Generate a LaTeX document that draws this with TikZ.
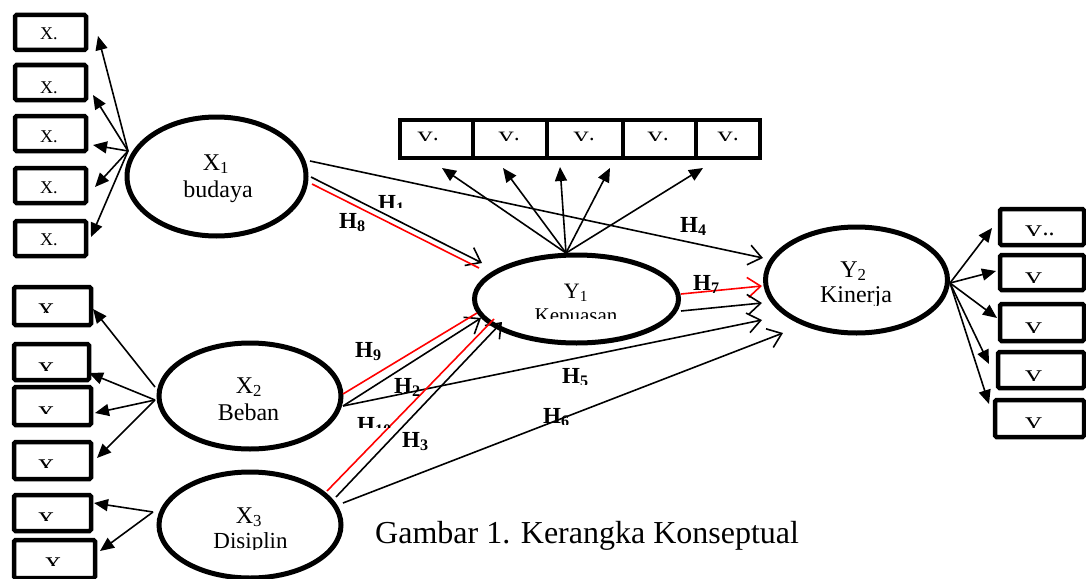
\documentclass[tikz,border=0pt]{standalone}
\usepackage{fontspec}
\setmainfont{Liberation Serif}
\usetikzlibrary{arrows.meta,calc,shapes.geometric}
\begin{document}
\begin{tikzpicture}[x=1pt,y=-1pt,
  lat/.style={draw,ellipse,line width=5pt,fill=white,inner sep=0pt},
  ind/.style={draw,rectangle,line width=4.5pt,fill=white,inner sep=0pt,rounded corners=1.5pt},
  meas/.style={line width=1.6pt,-{Triangle[length=14pt,width=12pt]}},
  struct/.style={line width=1.6pt,-{Straight Barb[length=13pt,width=20pt]}},
  redln/.style={line width=1.6pt,red},
  hlab/.style={font=\fontsize{23}{27}\selectfont\bfseries,inner sep=0pt,anchor=base west},
  elab/.style={font=\fontsize{24}{28}\selectfont,inner sep=0pt,anchor=base},
  smlab/.style={font=\fontsize{18}{21}\selectfont,inner sep=0pt,anchor=base west},
  biglab/.style={font=\fontsize{24}{28}\selectfont,inner sep=0pt,anchor=base west},
  toplab/.style={font=\fontsize{22}{26}\selectfont,inner sep=0pt,anchor=base}
]
\useasboundingbox (0,0) rectangle (1086,578);

% ---------- indicator boxes of X1
\node[ind,minimum width=71,minimum height=35] (B1) at (50.5,32.5) {};
\node[ind,minimum width=71,minimum height=35] (B2) at (50.5,82.5) {};
\node[ind,minimum width=71,minimum height=35] (B3) at (50.5,133.5) {};
\node[ind,minimum width=71,minimum height=35] (B4) at (50.5,185.5) {};
\node[ind,minimum width=71,minimum height=35] (B5) at (50.5,238.5) {};
\node[smlab] (tB1) at (40,40) {X.};
\node[smlab] (tB2) at (40,93) {X.};
\node[smlab] (tB3) at (40,142) {X.};
\node[smlab] (tB4) at (40,193) {X.};
\node[smlab] (tB5) at (40,245) {X.};

% ---------- indicator boxes of X2 and X3
\node[ind,minimum width=77,minimum height=38] (A) at (52.5,306) {};
\node[ind,minimum width=75,minimum height=36] (B) at (51.5,362) {};
\node[ind,minimum width=77,minimum height=38] (C) at (52.5,406) {};
\node[ind,minimum width=77,minimum height=37] (D) at (52.5,460.5) {};
\node[ind,minimum width=77,minimum height=36] (E) at (52.5,513) {};
\node[ind,minimum width=81,minimum height=38] (F) at (54.5,559) {};
\begin{scope}\clip (16,289) rectangle (90,312); \node[elab] (tA) at (46,319) {X}; \end{scope}
\begin{scope}\clip (16,346) rectangle (88,370); \node[elab] (tB) at (46,378) {X}; \end{scope}
\begin{scope}\clip (16,389) rectangle (90,413); \node[elab] (tC) at (46,422) {X}; \end{scope}
\begin{scope}\clip (16,444) rectangle (90,467); \node[elab] (tD) at (46,475) {X}; \end{scope}
\begin{scope}\clip (16,497) rectangle (90,520); \node[elab] (tE) at (46,528) {X}; \end{scope}
\begin{scope}\clip (16,542) rectangle (94,565); \node[elab] (tF) at (53,573) {X}; \end{scope}

% ---------- indicator boxes of Y1
\node[ind,rounded corners=0pt,minimum width=73,minimum height=38] (T1) at (436.5,139) {};
\node[ind,rounded corners=0pt,minimum width=74,minimum height=38] (T2) at (510,139) {};
\node[ind,rounded corners=0pt,minimum width=76,minimum height=38] (T3) at (585,139) {};
\node[ind,rounded corners=0pt,minimum width=73,minimum height=38] (T4) at (659.5,139) {};
\node[ind,rounded corners=0pt,minimum width=64,minimum height=38] (T5) at (728,139) {};
\begin{scope}\clip (402,122) rectangle (758,140.5);
\node[toplab] (tT1) at (428,146.5) {Y\raisebox{6pt}{.}};
\node[toplab] (tT2) at (509,146.5) {Y\raisebox{6pt}{.}};
\node[toplab] (tT3) at (584,146.5) {Y\raisebox{6pt}{.}};
\node[toplab] (tT4) at (658,146.5) {Y\raisebox{6pt}{.}};
\node[toplab] (tT5) at (728,146.5) {Y\raisebox{6pt}{.}};
\end{scope}

% ---------- indicator boxes of Y2
\node[ind,minimum width=84,minimum height=36] (R1) at (1042,227) {};
\node[ind,minimum width=84,minimum height=35] (R2) at (1042,272.5) {};
\node[ind,minimum width=84,minimum height=37] (R3) at (1042,322.5) {};
\node[ind,minimum width=86,minimum height=36] (R4) at (1041,370) {};
\node[ind,minimum width=89,minimum height=37] (R5) at (1039.5,418.5) {};
\begin{scope}\clip (1002,211) rectangle (1082,235); \node[biglab] (tR1) at (1025,241) {Y\raisebox{6pt}{..}}; \end{scope}
\begin{scope}\clip (1002,257) rectangle (1082,282); \node[biglab] (tR2) at (1025,288) {Y}; \end{scope}
\begin{scope}\clip (1002,306) rectangle (1082,332); \node[biglab] (tR3) at (1025,338) {Y}; \end{scope}
\begin{scope}\clip (1000,354) rectangle (1082,380); \node[biglab] (tR4) at (1025,386) {Y}; \end{scope}
\begin{scope}\clip (997,402) rectangle (1082,427); \node[biglab] (tR5) at (1025,433) {Y}; \end{scope}

% ---------- latent variables
\node[lat,minimum width=179,minimum height=119] (X1) at (216.5,176.5) {};
\node[lat,minimum width=182,minimum height=106] (X2) at (250,396) {};
\node[lat,minimum width=182,minimum height=106] (X3) at (250,525) {};
\node[lat,minimum width=204,minimum height=88] (Y1) at (576.5,299) {};
\node[lat,minimum width=182,minimum height=106] (Y2) at (856.5,280) {};

\node[elab] (lX1a) at (216,170) {X\textsubscript{1}};
\node[elab] (lX1b) at (218,197) {budaya};
\node[elab] (lX2a) at (249,393) {X\textsubscript{2}};
\node[elab] (lX2b) at (248.5,420) {Beban};
\node[elab] (lX3a) at (249,523) {X\textsubscript{3}};
\begin{scope}\clip (190,528) rectangle (310,549); \node[elab,font=\fontsize{23}{27}\selectfont] (lX3b) at (250.5,548) {Disiplin}; \end{scope}
\node[elab,font=\fontsize{22}{26}\selectfont] (lY1a) at (576,298) {Y\textsubscript{1}};
\begin{scope}\clip (520,302) rectangle (640,318); \node[elab,font=\fontsize{21}{25}\selectfont] (lY1b) at (576,322) {Kepuasan}; \end{scope}
\node[elab] (lY2a) at (853.5,277) {Y\textsubscript{2}};
\begin{scope}\clip (800,282) rectangle (910,305); \node[elab] (lY2b) at (856,302) {Kinerja}; \end{scope}

% ---------- measurement arrows
\draw[meas] ($(X1)+(-88.5,-25.5)$) -- ($(B1)+(47.5,3.5)$);
\draw[meas] ($(X1)+(-88.5,-25.5)$) -- ($(B2)+(42.5,12.5)$);
\draw[meas] ($(X1)+(-88.5,-25.5)$) -- ($(B3)+(42.5,11.5)$);
\draw[meas] ($(X1)+(-88.5,-25.5)$) -- ($(B4)+(44.5,1.5)$);
\draw[meas] ($(X1)+(-88.5,-25.5)$) -- ($(B5)+(40.5,-1.5)$);

\draw[meas] ($(X2)+(-95,-9)$) -- ($(A)+(40.5,3)$);
\draw[meas] ($(X2)+(-95,4)$) -- ($(B)+(37.5,11)$);
\draw[meas] ($(X2)+(-95,4)$) -- ($(C)+(42.5,7)$);
\draw[meas] ($(X2)+(-95,4)$) -- ($(D)+(44.5,-2.5)$);
\draw[meas] ($(X3)+(-97,-13)$) -- ($(E)+(41.5,-10)$);
\draw[meas] ($(X3)+(-97,-13)$) -- ($(F)+(45.5,-8)$);

\draw[meas] ($(Y1)+(-10.5,-46)$) -- ($(T1)+(5.5,29)$);
\draw[meas] ($(Y1)+(-10.5,-46)$) -- ($(T2)+(-7,29)$);
\draw[meas] ($(Y1)+(-10.5,-46)$) -- ($(T3)+(-25,28)$);
\draw[meas] ($(Y1)+(-10.5,-46)$) -- ($(T4)+(-49.5,29)$);
\draw[meas] ($(Y1)+(-10.5,-46)$) -- ($(T5)+(-25,29)$);

\draw[meas] ($(Y2)+(93.5,3)$) -- ($(R1)+(-50,1)$);
\draw[meas] ($(Y2)+(93.5,3)$) -- ($(R2)+(-46,-1.5)$);
\draw[meas] ($(Y2)+(93.5,3)$) -- ($(R3)+(-45,-4.5)$);
\draw[meas] ($(Y2)+(93.5,3)$) -- ($(R4)+(-52,-6)$);
\draw[meas] ($(Y2)+(93.5,3)$) -- ($(R5)+(-50.5,-14.5)$);

% ---------- structural paths
\draw[struct] ($(X1)+(94.5,0.5)$) -- ($(Y1)+(-94.5,-36)$);
\draw[redln] ($(X1)+(95.5,7.5)$) -- ($(Y1)+(-97.5,-31)$);
\draw[struct] ($(X1)+(93.5,-15.5)$) -- ($(Y2)+(-93.5,-22)$);
\draw[struct,red] ($(Y1)+(104.5,-5)$) -- ($(Y2)+(-94.5,6)$);
\draw[struct] ($(Y1)+(104.5,12)$) -- ($(Y2)+(-94.5,23)$);
\draw[struct] ($(X2)+(93,10)$) -- ($(Y2)+(-94.5,40)$);
\draw[struct] ($(X3)+(93,-22)$) -- ($(Y2)+(-73.5,53)$);
\draw[struct] ($(X2)+(93,10)$) -- ($(Y1)+(-95.5,19)$);
\draw[redln] ($(X2)+(93,-2)$) -- ($(Y1)+(-99.5,14)$);
\draw[struct] ($(X3)+(86,-28)$) -- ($(Y1)+(-74.5,23)$);
\draw[redln] ($(X3)+(77,-34)$) -- ($(Y1)+(-82.5,20)$);

% ---------- hypothesis labels
\begin{scope}\clip (370,185) rectangle (420,207); \node[hlab] (H1) at (378,210) {H\textsubscript{1}}; \end{scope}
\node[hlab] (H8) at (339,228) {H\textsubscript{8}};
\node[hlab] (H4) at (680,232) {H\textsubscript{4}};
\begin{scope}\clip (685,265) rectangle (740,292); \node[hlab] (H7) at (693,290) {H\textsubscript{7}}; \end{scope}
\node[hlab] (H9) at (355,357) {H\textsubscript{9}};
\node[hlab] (H2) at (394,393) {H\textsubscript{2}};
\begin{scope}\clip (550,360) rectangle (610,384); \node[hlab] (H5) at (562,383) {H\textsubscript{5}}; \end{scope}
\begin{scope}\clip (535,400) rectangle (590,424); \node[hlab] (H6) at (543,423) {H\textsubscript{6}}; \end{scope}
\begin{scope}\clip (350,410) rectangle (400,427); \node[hlab] (H10) at (357,432) {H\textsubscript{10}}; \end{scope}
\node[hlab] (H3) at (402,447) {H\textsubscript{3}};

% ---------- caption
\node[font=\fontsize{32}{38}\selectfont,anchor=base west,inner sep=0pt] (cap) at (375,543) {Gambar 1. Kerangka Konseptual};
\end{tikzpicture}
\end{document}
